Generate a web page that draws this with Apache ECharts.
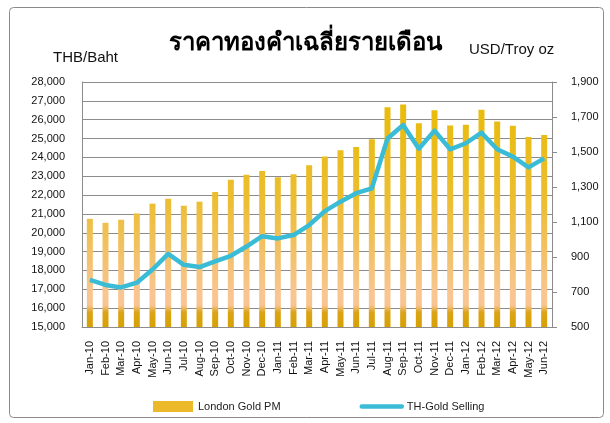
<!DOCTYPE html>
<html><head><meta charset="utf-8">
<script src="https://cdn.jsdelivr.net/npm/echarts@6/dist/echarts.min.js"></script>
<style>html,body{margin:0;padding:0;background:#fff}#c{width:610px;height:423px}</style>
</head><body><div id="c"></div>
<script>
var categories = ['Jan-10','Feb-10','Mar-10','Apr-10','May-10','Jun-10','Jul-10','Aug-10','Sep-10','Oct-10','Nov-10','Dec-10',
  'Jan-11','Feb-11','Mar-11','Apr-11','May-11','Jun-11','Jul-11','Aug-11','Sep-11','Oct-11','Nov-11','Dec-11',
  'Jan-12','Feb-12','Mar-12','Apr-12','May-12','Jun-12'];
var londonGoldPM = [1118,1095,1113,1149,1205,1233,1193,1216,1271,1342,1370,1391,
  1356,1373,1424,1474,1510,1529,1573,1756,1772,1665,1739,1652,
  1656,1742,1674,1650,1586,1597];
var thGoldSelling = [17500,17230,17100,17350,18050,18880,18300,18180,18480,18780,19270,19820,
  19700,19880,20410,21150,21650,22100,22360,25000,25720,24460,25420,24430,
  24750,25310,24430,24040,23470,23950];
var titleText = 'ราคาทองคำเฉลี่ยรายเดือน';
var leftAxisName = 'THB/Baht';
var rightAxisName = 'USD/Troy oz';

var fmt = function(v){ return Number(v).toLocaleString('en-US'); };
var font = '"Liberation Sans", Arial, sans-serif';
var chart = echarts.init(document.getElementById('c'), null, {renderer:'canvas'});
var barGrad = {type:'linear', x:0, y:82, x2:0, y2:327, global:true, colorStops:[
  {offset:0, color:'#E8BA00'},
  {offset:0.48, color:'#ECBE30'},
  {offset:0.73, color:'#F3C270'},
  {offset:0.87, color:'#F9C592'},
  {offset:0.912, color:'#F8C48E'},
  {offset:0.94, color:'#DBA418'},
  {offset:1, color:'#D8A000'}
]};
chart.setOption({
  animation:false,
  textStyle:{fontFamily:font},
  graphic:[
    {type:'rect', shape:{x:9.5, y:7.5, width:594, height:410, r:4}, style:{fill:'none', stroke:'#8a8a8a', lineWidth:1}, z:-1},
    {type:'text', left:'center', top:31, style:{text:titleText, fontSize:24, fontWeight:'bold', fill:'#000', fontFamily:'"Noto Sans", sans-serif'}},
    {type:'text', x:53, y:58, style:{text:leftAxisName, fontSize:15, fill:'#111', fontFamily:font, textVerticalAlign:'middle'}},
    {type:'text', x:469, y:50, style:{text:rightAxisName, fontSize:15, fill:'#111', fontFamily:font, textVerticalAlign:'middle'}}
  ],
  legend:{
    left:148, top:396, itemGap:79, itemWidth:40, itemHeight:11,
    textStyle:{fontSize:11, color:'#222', fontFamily:font},
    data:[
      {name:'London Gold PM', icon:'rect', itemStyle:{color:'#EBB92A'}},
      {name:'TH-Gold Selling', itemStyle:{opacity:0}, lineStyle:{width:4.5, color:'#3BBCD6', cap:'round'}}
    ]
  },
  grid:{left:82, right:58, top:82, bottom:96},
  xAxis:{
    type:'category', data:categories,
    axisLine:{lineStyle:{color:'#8c8c8c'}},
    axisTick:{show:false},
    axisLabel:{rotate:90, interval:0, margin:14, fontSize:11, color:'#111', fontFamily:font}
  },
  yAxis:[
    {type:'value', min:15000, max:28000, interval:1000, position:'left',
     axisLine:{show:true, lineStyle:{color:'#8c8c8c'}}, axisTick:{show:false},
     axisLabel:{formatter:fmt, fontSize:11, color:'#111', margin:17, fontFamily:font},
     splitLine:{show:true, lineStyle:{color:'#8c8c8c', width:1}}},
    {type:'value', min:500, max:1900, interval:200, position:'right',
     axisLine:{show:true, lineStyle:{color:'#8c8c8c'}},
     axisTick:{show:true, inside:false, length:5, lineStyle:{color:'#8c8c8c'}},
     axisLabel:{formatter:fmt, fontSize:11, color:'#111', margin:19, fontFamily:font},
     splitLine:{show:false}}
  ],
  series:[
    {name:'London Gold PM', type:'bar', yAxisIndex:1, data:londonGoldPM, barWidth:6,
     itemStyle:{color:barGrad}},
    {name:'TH-Gold Selling', type:'line', yAxisIndex:0, data:thGoldSelling,
     symbol:'none', lineStyle:{color:'#3BBCD6', width:4.5, join:'round'}, itemStyle:{color:'#3BBCD6'}, z:5}
  ]
});
</script></body></html>
